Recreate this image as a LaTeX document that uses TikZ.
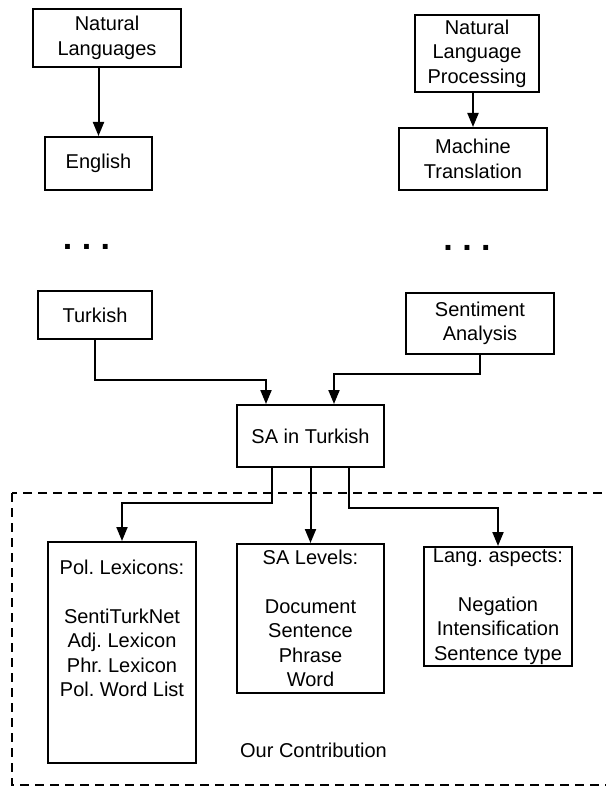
\documentclass[tikz,border=0pt]{standalone}
\usepackage{fontspec}
\setmainfont{Liberation Sans}
\frenchspacing
\usetikzlibrary{arrows.meta,calc}
\tikzset{
  box/.style={draw, line width=2pt, rectangle, inner sep=0pt, align=center},
  arr/.style={line width=2pt, -{Triangle[length=14pt,width=11pt]}},
  dotsnode/.style={font=\fontsize{34}{34}\selectfont\bfseries, inner sep=0pt, anchor=base},
  frame/.style={draw, line width=1.2pt, dash pattern=on 9pt off 6pt},
}
\begin{document}
\begin{tikzpicture}[x=1pt,y=-1pt, font=\fontsize{20}{24.5}\selectfont\frenchspacing]
\useasboundingbox (0,0) rectangle (605,786);
\fill[white] (0,0) rectangle (605,786);

% dashed contribution frame
\draw[frame] (12,493) rectangle (615,785);

% left column
\node[box, minimum width=148pt, minimum height=58pt] (nl) at (107,38) {Natural\\Languages};
\node[box, minimum width=107pt, minimum height=53pt] (en) at (98.5,163.5) {English};
\node[dotsnode] (dl) at (86.5,249.5) {. . .};
\node[box, minimum width=114pt, minimum height=48pt] (tr) at (95,315) {Turkish};

% right column
\node[box, minimum width=124pt, minimum height=77pt] (nlp) at (477,53.5) {Natural\\Language\\Processing};
\node[box, minimum width=148pt, minimum height=62pt] (mt) at (473,159) {Machine\\Translation};
\node[dotsnode] (dr) at (467,250.5) {. . .};
\node[box, minimum width=148pt, minimum height=61pt] (sa) at (480,323.5) {Sentiment\\Analysis};

% middle
\node[box, minimum width=147pt, minimum height=62pt] (sat) at (310.5,436) {SA in Turkish};

% bottom boxes
\node[box, minimum width=148pt, minimum height=221pt] (pol) at (122,652.5)
  {Pol. Lexicons:\\ \mbox{}\\ SentiTurkNet\\ Adj. Lexicon\\ Phr. Lexicon\\ Pol. Word List\\ \mbox{}\\ \mbox{}};
\node[box, minimum width=147pt, minimum height=149pt] (lev) at (310.5,618.5)
  {SA Levels:\\ \mbox{}\\ Document\\ Sentence\\ Phrase\\ Word};
\node[box, minimum width=148pt, minimum height=119pt] (lang) at (498,606.5)
  {Lang. aspects:\\ \mbox{}\\ Negation\\ Intensification\\ Sentence type};
\node[anchor=base, inner sep=0pt] (oc) at (313.5,757) {Our Contribution};

% connectors
\draw[arr] (en.north |- nl.south) -- (en.north);
\draw[arr] (mt.north |- nlp.south) -- (mt.north);

\coordinate (j1) at (266,380);
\draw[arr] (tr.south) |- (j1) -- (j1 |- sat.north);
\coordinate (j2) at (334,374);
\draw[arr] (sa.south) |- (j2) -- (j2 |- sat.north);

\coordinate (j3) at (272,503);
\draw[arr] (j3 |- sat.south) -- (j3) -| (pol.north);
\draw[arr] (sat.south) -- (lev.north);
\coordinate (j4) at (349,508);
\draw[arr] (j4 |- sat.south) -- (j4) -| (lang.north);
\end{tikzpicture}
\end{document}
